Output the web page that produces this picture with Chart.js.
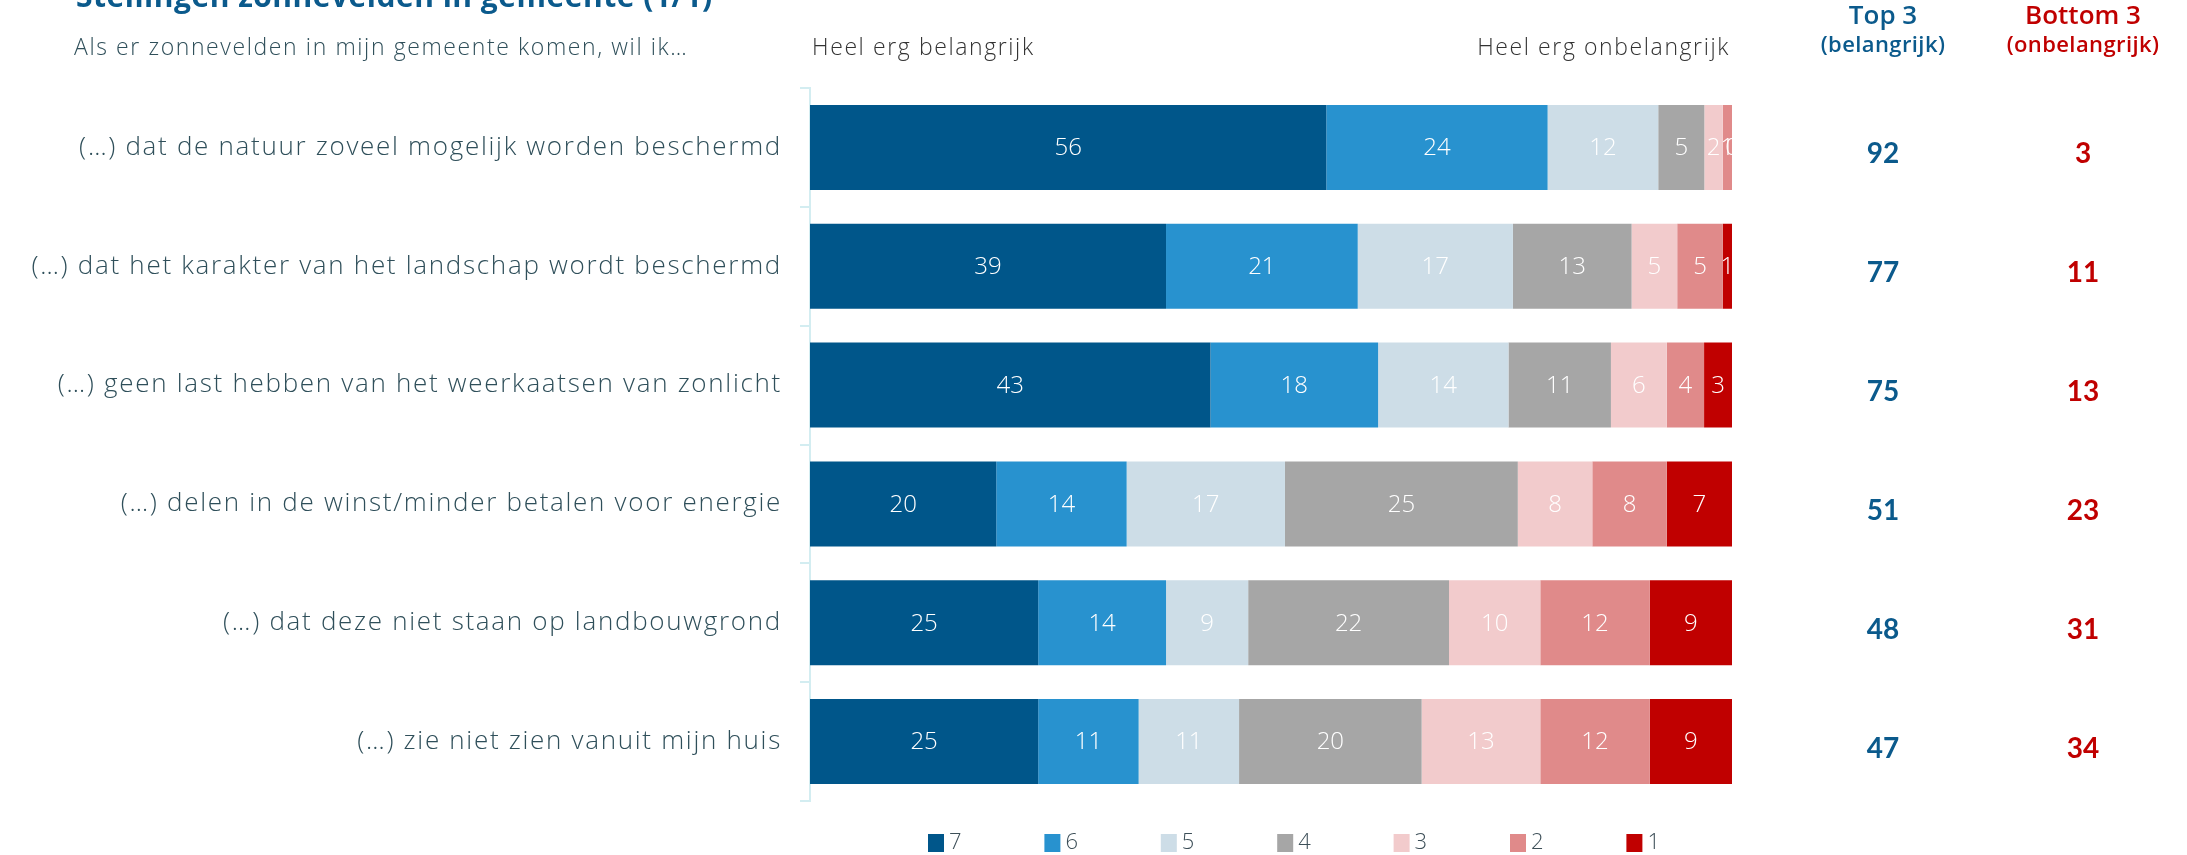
<!DOCTYPE html>
<html>
<head>
<meta charset="utf-8">
<script src="https://cdn.jsdelivr.net/npm/chart.js@4.4.1/dist/chart.umd.min.js"></script>
<style>
html, body { margin: 0; padding: 0; background: #fff; }
#wrap { position: relative; width: 2187px; height: 855px; }
</style>
</head>
<body>
<div id="wrap"><canvas id="chart"></canvas></div>
<script>
// --------- data -----------
var statements = [
  "(…) dat de natuur zoveel mogelijk worden beschermd",
  "(…) dat het karakter van het landschap wordt beschermd",
  "(…) geen last hebben van het weerkaatsen van zonlicht",
  "(…) delen in de winst/minder betalen voor energie",
  "(…) dat deze niet staan op landbouwgrond",
  "(…) zie niet zien vanuit mijn huis"
];
var scores = ["7", "6", "5", "4", "3", "2", "1"];
var s7 = [56, 39, 43, 20, 25, 25];
var s6 = [24, 21, 18, 14, 14, 11];
var s5 = [12, 17, 14, 17, 9, 11];
var s4 = [5, 13, 11, 25, 22, 20];
var s3 = [2, 5, 6, 8, 10, 13];
var s2 = [1, 5, 4, 8, 12, 12];
var s1 = [0, 1, 3, 7, 9, 9];
var top3 = [92, 77, 75, 51, 48, 47];
var bottom3 = [3, 11, 13, 23, 31, 34];

var colors = ["#00568a", "#2892cf", "#cddde7", "#a6a6a6", "#f2cbcc", "#e08a8a", "#c00000"];
var textColor = "#2f4f5a";
var blue = "#0b5a8c";
var red = "#c00000";
var light = "'Open Sans', Lato, sans-serif";

// every bar is drawn as 100%, the labels keep the rounded numbers
var series = [s7, s6, s5, s4, s3, s2, s1];
var rowSum = statements.map(function (s, i) {
  var t = 0;
  for (var k = 0; k < series.length; k++) t += series[k][i];
  return t;
});
var datasets = series.map(function (vals, k) {
  return {
    label: scores[k],
    data: vals.map(function (v, i) { return v / rowSum[i] * 100; }),
    raw: vals,
    backgroundColor: colors[k],
    borderWidth: 0,
    barPercentage: 0.715,
    categoryPercentage: 1
  };
});

// the original font is wider, spread the axis labels a bit
var spacing = {
  id: "spacing",
  beforeDraw: function (chart) { chart.ctx.letterSpacing = "1.7px"; }
};

// white numbers inside the segments
var segmentLabels = {
  id: "segmentLabels",
  afterDatasetsDraw: function (chart) {
    var ctx = chart.ctx, a = chart.chartArea;
    ctx.save();
    ctx.letterSpacing = "0px";
    ctx.beginPath();
    ctx.rect(a.left, a.top, a.right - a.left, a.bottom - a.top);
    ctx.clip();
    ctx.font = "300 24px " + light;
    ctx.fillStyle = "#fff";
    ctx.textAlign = "center";
    ctx.textBaseline = "middle";
    chart.data.datasets.forEach(function (ds, k) {
      chart.getDatasetMeta(k).data.forEach(function (el, i) {
        ctx.fillText(ds.raw[i], (el.x + el.base) / 2, el.y + 1);
      });
    });
    ctx.restore();
  }
};

// headings, top/bottom 3 columns and the legend
var extras = {
  id: "extras",
  afterDraw: function (chart) {
    var ctx = chart.ctx, a = chart.chartArea, yScale = chart.scales.y;
    ctx.save();
    ctx.textBaseline = "alphabetic";
    ctx.textAlign = "left";
    ctx.fillStyle = blue;
    ctx.letterSpacing = "0.5px";
    ctx.font = "bold 30px " + light;
    ctx.fillText("Stellingen zonnevelden in gemeente (1/1)", 76, 7);

    ctx.textBaseline = "middle";
    ctx.letterSpacing = "1.6px";
    ctx.fillStyle = textColor;
    ctx.font = "300 23px " + light;
    ctx.fillText("Als er zonnevelden in mijn gemeente komen, wil ik…", 74, 48);
    ctx.fillStyle = "#333";
    ctx.fillText("Heel erg belangrijk", a.left + 2, 48);
    ctx.textAlign = "right";
    ctx.fillText("Heel erg onbelangrijk", a.right - 2, 48);

    var xTop = a.right + 151, xBot = a.right + 351;
    ctx.textAlign = "center";
    ctx.letterSpacing = "0px";
    ctx.font = "600 26px " + light;
    ctx.fillStyle = blue;
    ctx.fillText("Top 3", xTop, 17);
    ctx.fillStyle = red;
    ctx.fillText("Bottom 3", xBot, 17);
    ctx.letterSpacing = "0.4px";
    ctx.font = "600 22px " + light;
    ctx.fillStyle = blue;
    ctx.fillText("(belangrijk)", xTop, 46);
    ctx.fillStyle = red;
    ctx.fillText("(onbelangrijk)", xBot, 46);

    ctx.letterSpacing = "0px";
    ctx.font = "bold 28px Lato, sans-serif";
    statements.forEach(function (s, i) {
      var y = yScale.getPixelForValue(i) + 7;
      ctx.fillStyle = blue;
      ctx.fillText(top3[i], xTop, y);
      ctx.fillStyle = red;
      ctx.fillText(bottom3[i], xBot, y);
    });

    // legend
    ctx.textAlign = "left";
    ctx.font = "300 22px " + light;
    chart.data.datasets.forEach(function (ds, k) {
      var x = a.left + 118 + k * 116.4;
      ctx.fillStyle = ds.backgroundColor;
      ctx.fillRect(x, 834, 16, 18);
      ctx.fillStyle = "#3d4f58";
      ctx.fillText(ds.label, x + 21, 843);
    });
    ctx.restore();
  }
};

new Chart(document.getElementById("chart"), {
  type: "bar",
  data: { labels: statements, datasets: datasets },
  options: {
    indexAxis: "y",
    responsive: true,
    maintainAspectRatio: false,
    animation: false,
    layout: { padding: { top: 88, bottom: 54, left: 0, right: 455 } },
    plugins: { legend: { display: false }, tooltip: { enabled: false } },
    scales: {
      x: { stacked: true, min: 0, max: 100, display: false },
      y: {
        stacked: true,
        afterFit: function (scale) { scale.width = 810; },
        grid: { drawOnChartArea: false, drawTicks: true, tickLength: 10, color: "#d3edf1", lineWidth: 2 },
        border: { display: true, color: "#d3edf1", width: 2 },
        ticks: { padding: 18, color: textColor, font: { family: light, size: 26, weight: "300" } }
      }
    }
  },
  plugins: [spacing, segmentLabels, extras]
});
</script>
</body>
</html>
